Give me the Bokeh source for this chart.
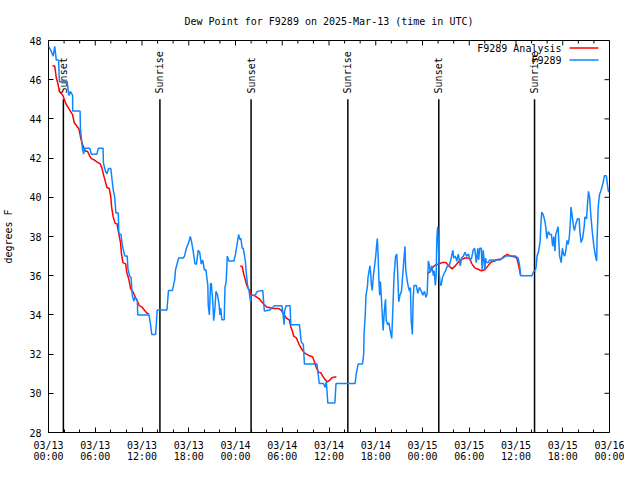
import numpy as np
import pandas as pd
from bokeh.plotting import figure
from bokeh.models import (Range1d, DatetimeAxis, FixedTicker, DatetimeTickFormatter,
                          Label, Arrow)
from bokeh.core.properties import value
from bokeh.embed import file_html
from bokeh.resources import INLINE

START = pd.Timestamp("2025-03-13 00:00")
END = pd.Timestamp("2025-03-16 00:00")

# Station observations (hours since 03/13 00:00 UTC, dew point F)
obs_hours = [0.0, 0.3, 0.6, 0.8, 1.0, 1.3, 1.4, 2.4, 2.6, 2.8, 3.1, 3.1, 4.05, 4.1, 4.35, 4.5, 4.6, 5.3, 5.5, 6.2,
             6.4, 7.0, 7.05, 7.3, 7.5, 7.7, 8.0, 8.1, 8.3, 8.5, 8.65, 8.95, 9.03, 9.3, 9.5, 9.8, 10.1, 10.2, 10.4, 10.6,
             10.75, 10.95, 11.1, 11.4, 11.45, 12.9, 13.1, 13.25, 13.75, 13.95, 15.2, 15.4, 15.9, 16.2, 16.3, 16.7, 17.3, 17.45, 17.7, 18.0,
             18.2, 18.35, 18.55, 18.8, 19.0, 19.2, 19.4, 19.6, 19.8, 20.0, 20.2, 20.45, 20.5, 20.65, 20.8, 20.9, 21.05, 21.2, 21.35, 21.5,
             21.7, 21.9, 22.0, 22.1, 22.25, 22.55, 22.65, 22.8, 22.95, 23.15, 23.8, 24.0, 24.2, 24.4, 24.55, 24.7, 24.85, 25.0, 25.25, 25.4,
             25.55, 25.75, 25.9, 25.95, 26.0, 26.5, 26.8, 27.5, 27.7, 28.4, 29.0, 29.95, 30.05, 30.25, 30.3, 30.5, 31.0, 31.1, 32.2, 32.45,
             32.7, 32.85, 34.45, 34.6, 34.75, 35.3, 35.5, 35.65, 35.85, 36.75, 36.9, 39.35, 39.5, 39.75, 40.3, 40.45, 40.5, 40.65, 40.75, 40.95,
             41.0, 41.15, 41.25, 41.35, 41.45, 41.55, 41.7, 41.85, 42.0, 42.1, 42.2, 42.3, 42.4, 42.5, 42.6, 42.7, 42.95, 43.1, 43.25, 43.35,
             43.55, 43.7, 43.85, 44.05, 44.2, 44.35, 44.55, 44.7, 44.8, 44.95, 45.1, 45.3, 45.55, 45.75, 45.85, 46.05, 46.2, 46.35, 46.45, 46.55,
             46.7, 46.8, 46.9, 47.2, 47.4, 47.6, 47.8, 48.05, 48.25, 48.45, 48.6, 48.75, 48.9, 49.0, 49.2, 49.4, 49.5, 49.65, 49.75, 49.85,
             49.95, 50.05, 50.15, 50.25, 50.4, 50.55, 50.75, 50.95, 51.2, 51.4, 51.6, 51.9, 52.0, 52.2, 52.4, 52.6, 52.85, 53.0, 53.25, 53.45,
             53.65, 53.9, 54.1, 54.3, 54.5, 54.7, 54.9, 55.1, 55.2, 55.35, 55.55, 55.65, 55.8, 56.0, 56.1, 56.2, 56.45, 56.6, 57.9, 58.1,
             58.3, 58.7, 59.95, 60.25, 60.4, 60.5, 60.6, 62.05, 62.25, 62.5, 62.6, 62.7, 62.9, 63.1, 63.2, 63.3, 63.5, 63.7, 63.85, 63.95,
             64.15, 64.35, 64.55, 64.7, 64.85, 65.0, 65.1, 65.25, 65.4, 65.5, 65.6, 65.8, 65.95, 66.1, 66.25, 66.4, 66.55, 66.7, 66.85, 67.0,
             67.05, 67.2, 67.35, 67.5, 67.7, 67.9, 68.1, 68.2, 68.35, 68.55, 68.75, 68.85, 69.05, 69.15, 69.3, 69.45, 69.6, 69.8, 70.0, 70.2,
             70.35, 70.4, 70.55, 70.7, 70.95, 71.15, 71.35, 71.6, 71.7, 71.85, 72.0]
obs_dewpt = [47.7, 47.5, 47.2, 47.7, 47.0, 47.0, 45.9, 45.9, 45.2, 45.4, 45.2, 44.4, 44.4, 43.5, 42.5, 42.2, 42.5, 42.5, 42.2, 42.2,
             42.5, 42.5, 41.75, 41.35, 41.2, 41.47, 41.47, 41.1, 40.4, 40.0, 39.2, 39.2, 38.17, 38.1, 37.5, 37.0, 37.0, 36.35, 36.0, 35.9,
             35.0, 34.7, 34.9, 34.75, 34.0, 34.0, 33.5, 33.0, 33.0, 34.25, 34.25, 35.25, 35.25, 35.8, 36.3, 36.9, 36.9, 37.0, 37.4, 37.7,
             38.0, 37.75, 37.3, 36.6, 36.6, 37.3, 37.2, 36.6, 36.8, 36.3, 36.3, 35.5, 34.5, 34.0, 35.6, 35.6, 34.85, 33.7, 34.3, 35.2,
             35.0, 34.5, 34.0, 34.35, 33.75, 33.75, 35.4, 35.7, 37.0, 36.75, 36.75, 37.1, 37.6, 38.1, 37.85, 37.9, 37.4, 37.4, 36.8, 36.1,
             35.5, 35.2, 34.75, 34.67, 35.0, 35.0, 35.2, 35.25, 34.2, 34.25, 34.47, 34.47, 34.2, 33.5, 34.2, 34.47, 34.47, 33.5, 33.5, 32.6,
             32.5, 31.5, 31.5, 31.0, 30.5, 30.5, 30.3, 30.6, 29.5, 29.5, 30.5, 30.5, 31.0, 31.5, 31.5, 32.0, 33.0, 34.0, 35.0, 35.5,
             35.9, 36.25, 36.5, 36.1, 35.5, 35.25, 36.0, 36.5, 37.0, 37.5, 37.9, 37.1, 35.85, 35.0, 35.7, 35.0, 33.2, 34.2, 34.8, 33.7,
             33.5, 33.6, 33.2, 32.8, 34.35, 36.0, 37.0, 37.1, 36.3, 34.67, 35.0, 35.2, 36.5, 37.5, 36.3, 35.7, 35.4, 35.2, 35.4, 33.7,
             33.0, 34.75, 35.5, 35.5, 35.1, 35.4, 35.25, 35.0, 35.2, 34.9, 35.1, 36.75, 36.5, 36.17, 36.5, 36.0, 36.25, 35.5, 36.0, 38.0,
             38.5, 37.5, 36.1, 35.6, 35.5, 35.9, 36.1, 36.25, 36.5, 36.5, 36.75, 37.3, 36.9, 37.0, 36.75, 37.1, 36.5, 36.9, 37.0, 37.2,
             37.0, 37.1, 36.8, 36.9, 37.3, 37.4, 36.67, 37.4, 36.8, 37.4, 37.4, 36.3, 37.3, 36.3, 36.9, 36.67, 36.67, 36.8, 36.8, 36.85,
             36.9, 37.0, 37.0, 36.9, 36.67, 36.4, 36.0, 36.0, 36.2, 36.3, 36.5, 37.0, 37.25, 37.75, 38.67, 39.25, 39.1, 38.8, 38.4, 37.9,
             38.25, 38.1, 38.1, 37.5, 38.0, 37.25, 38.1, 38.3, 38.5, 37.7, 37.0, 36.67, 37.4, 37.1, 37.0, 37.3, 37.8, 37.6, 38.0, 38.9,
             39.5, 39.1, 38.6, 38.3, 38.67, 38.9, 38.9, 38.25, 37.7, 37.9, 38.5, 39.0, 38.9, 39.5, 40.3, 40.0, 39.1, 38.2, 37.5, 37.0,
             36.75, 37.8, 39.5, 40.1, 40.4, 40.7, 41.1, 41.1, 40.75, 40.3, 40.3]

# Analysis segments (hours since 03/13 00:00 UTC, dew point F)
ana1_hours = [0.5, 0.8, 1.0, 1.2, 1.4, 1.85, 2.25, 2.65, 3.1, 3.3, 3.5, 3.9, 4.15, 4.35, 4.75, 5.0, 5.3, 5.5, 5.9, 6.25,
              6.65, 6.85, 7.05, 7.3, 7.5, 7.8, 8.0, 8.1, 8.3, 8.55, 8.8, 9.0, 9.25, 9.35, 9.55, 9.9, 10.05, 10.3, 10.55, 10.85,
              11.15, 11.45, 11.65, 12.0, 12.3, 12.6, 12.9]
ana1_dewpt = [46.7, 46.7, 46.1, 45.8, 45.4, 45.2, 44.75, 44.5, 44.2, 43.8, 43.7, 43.5, 43.0, 42.7, 42.35, 42.35, 42.1, 41.97, 41.9, 41.8,
              41.7, 41.5, 41.17, 40.8, 40.5, 40.45, 40.0, 39.5, 39.0, 38.67, 38.65, 38.17, 37.67, 37.17, 36.67, 36.6, 36.17, 35.83, 35.33, 35.17,
              34.9, 34.67, 34.47, 34.4, 34.25, 34.1, 34.05]
ana2_hours = [24.6, 24.85, 25.05, 25.25, 25.45, 25.65, 25.9, 26.0, 26.5, 27.1, 27.55, 28.0, 28.4, 28.8, 29.45, 29.85, 30.25, 30.55, 30.9, 31.1,
              31.3, 31.5, 31.8, 32.15, 32.5, 32.8, 33.1, 33.6, 33.9, 34.15, 34.35, 34.65, 34.95, 35.15, 35.5, 35.8, 36.1, 36.4, 36.75, 36.95]
ana2_dewpt = [36.5, 36.47, 36.1, 35.8, 35.5, 35.33, 35.2, 35.03, 34.97, 34.8, 34.58, 34.4, 34.37, 34.33, 34.33, 34.25, 34.0, 33.83, 33.75, 33.4,
              33.17, 32.9, 32.83, 32.5, 32.25, 32.08, 32.0, 31.9, 31.85, 31.58, 31.33, 31.08, 31.05, 30.9, 30.7, 30.58, 30.67, 30.8, 30.83, 30.83]
ana3_hours = [48.65, 48.95, 49.2, 49.5, 49.7, 50.1, 50.5, 51.0, 51.4, 51.8, 52.2, 52.6, 53.05, 53.45, 53.9, 54.1, 54.3, 54.7, 55.15, 55.55,
              56.0, 56.4, 56.8, 57.25, 57.65, 58.1, 58.5, 58.9, 59.35, 59.75, 60.1, 60.25, 60.4, 60.6]
ana3_dewpt = [36.1, 36.2, 36.35, 36.5, 36.55, 36.6, 36.67, 36.67, 36.5, 36.35, 36.5, 36.7, 36.83, 36.9, 36.9, 36.85, 36.63, 36.4, 36.33, 36.25,
              36.3, 36.5, 36.7, 36.75, 36.83, 36.85, 37.0, 37.08, 37.0, 36.97, 36.9, 36.67, 36.4, 36.0]

# Sun events (hours since 03/13 00:00 UTC)
sun_hours = [1.91, 14.3, 26.0, 38.42, 50.09, 62.38]
sun_labels = ["Sunset", "Sunrise", "Sunset", "Sunrise", "Sunset", "Sunrise"]

y_ticks = [28, 30, 32, 34, 36, 38, 40, 42, 44, 46, 48]
major_tick_hours = list(range(0, 73, 6))
minor_tick_hours = [h for h in range(0, 73, 2) if h % 6 != 0]

title_text = "Dew Point for F9289 on 2025-Mar-13 (time in UTC)"
y_label = "degrees F"
series_names = ["F9289 Analysis", "F9289"]

RED = "#ff0000"
BLUE = "#0f86ff"
FONT = "DejaVu Sans Mono"
FS = "10px"

W, H = 624, 464
BL, BR, BT, BB = 47, 15, 40, 30
FW, FH = W - BL - BR, H - BT - BB


def to_dt(hours):
    return START + pd.to_timedelta(np.asarray(hours, dtype=float), unit="h")


def to_ms(hours):
    return [float((START + pd.Timedelta(hours=h)).value // 10**6) for h in hours]


p = figure(width=W, height=H, x_axis_type="datetime",
           x_range=Range1d(START, END), y_range=Range1d(28, 48),
           output_backend="svg", toolbar_location=None,
           min_border_left=BL, min_border_right=BR, min_border_top=BT, min_border_bottom=BB,
           title=title_text)
p.title.align = "center"
p.title.text_font = FONT
p.title.text_font_size = FS
p.title.text_font_style = "normal"
p.title.text_color = "black"
p.title.standoff = 27
p.grid.visible = False
p.outline_line_color = "black"
p.outline_line_width = 1
p.background_fill_color = "white"
p.border_fill_color = "white"

xticker = FixedTicker(ticks=to_ms(major_tick_hours), minor_ticks=to_ms(minor_tick_hours))
yticker = FixedTicker(ticks=y_ticks, minor_ticks=[])


def dt_fmt(f):
    return DatetimeTickFormatter(microseconds=f, milliseconds=f, seconds=f, minsec=f, minutes=f,
                                 hourmin=f, hours=f, days=f, months=f, years=f)


def style_axis(ax):
    ax.axis_line_color = None
    ax.major_tick_in = 5
    ax.major_tick_out = 0
    ax.minor_tick_in = 3
    ax.minor_tick_out = 0
    ax.major_tick_line_color = "black"
    ax.minor_tick_line_color = "black"
    ax.major_label_text_font = FONT
    ax.major_label_text_font_size = FS
    ax.major_label_text_color = "black"


# bottom axis: date line, then a second axis for the time line
xa = p.xaxis[0]
xa.ticker = xticker
xa.formatter = dt_fmt("%m/%d")
style_axis(xa)
xa.major_label_standoff = 7

xa2 = DatetimeAxis(ticker=xticker, formatter=dt_fmt("%H:%M"))
style_axis(xa2)
xa2.major_tick_line_color = None
xa2.minor_tick_line_color = None
xa2.major_tick_in = 0
xa2.minor_tick_in = 0
xa2.major_label_standoff = -3
p.add_layout(xa2, "below")

ya = p.yaxis[0]
ya.ticker = yticker
style_axis(ya)
ya.minor_tick_in = 0
ya.major_label_standoff = 7
ya.axis_label = y_label
ya.axis_label_text_font = FONT
ya.axis_label_text_font_size = FS
ya.axis_label_text_font_style = "normal"
ya.axis_label_text_color = "black"
ya.axis_label_standoff = 12

# mirrored ticks on the top and right border (gnuplot style)
px_per_unit_y = FH / 20.0
px_per_hour = FW / 72.0
top_major = to_dt(major_tick_hours)
top_minor = to_dt(minor_tick_hours)
p.segment(x0=top_major, y0=48, x1=top_major, y1=48 - 5 / px_per_unit_y, line_color="black", line_width=1)
p.segment(x0=top_minor, y0=48, x1=top_minor, y1=48 - 3 / px_per_unit_y, line_color="black", line_width=1)
p.segment(x0=[END] * len(y_ticks), y0=y_ticks, x1=[END - pd.Timedelta(hours=5 / px_per_hour)] * len(y_ticks),
          y1=y_ticks, line_color="black", line_width=1)

# Sunrise / sunset markers
sun_dt = to_dt(sun_hours)
p.segment(x0=sun_dt, y0=28, x1=sun_dt, y1=45, line_color="black", line_width=1.5)
p.text(x=sun_dt, y=45.3, text=sun_labels, angle=np.pi / 2, text_align="left",
       text_baseline="middle", text_font=value(FONT), text_font_size=FS, text_color="black")

# Analysis (red) segments, then observations (blue)
for hrs, vals in [(ana1_hours, ana1_dewpt), (ana2_hours, ana2_dewpt), (ana3_hours, ana3_dewpt)]:
    p.line(to_dt(hrs), vals, line_color=RED, line_width=1.5)
p.line(to_dt(obs_hours), obs_dewpt, line_color=BLUE, line_width=1.5)

# Legend (gnuplot style: text then sample line), screen units relative to the frame
for i, (name, col) in enumerate(zip(series_names, [RED, BLUE])):
    ly = FH - 9.5 - 12 * i
    p.add_layout(Label(x=FW - 49, y=ly, x_units="screen", y_units="screen", text=name,
                       text_align="right", text_baseline="middle", text_font=FONT,
                       text_font_size=FS, text_color="black"))
    p.add_layout(Arrow(end=None, x_start=FW - 41, y_start=ly, x_end=FW - 12, y_end=ly,
                       start_units="screen", end_units="screen", line_color=col, line_width=1.5))

open("out.html", "w").write(file_html(p, INLINE))
